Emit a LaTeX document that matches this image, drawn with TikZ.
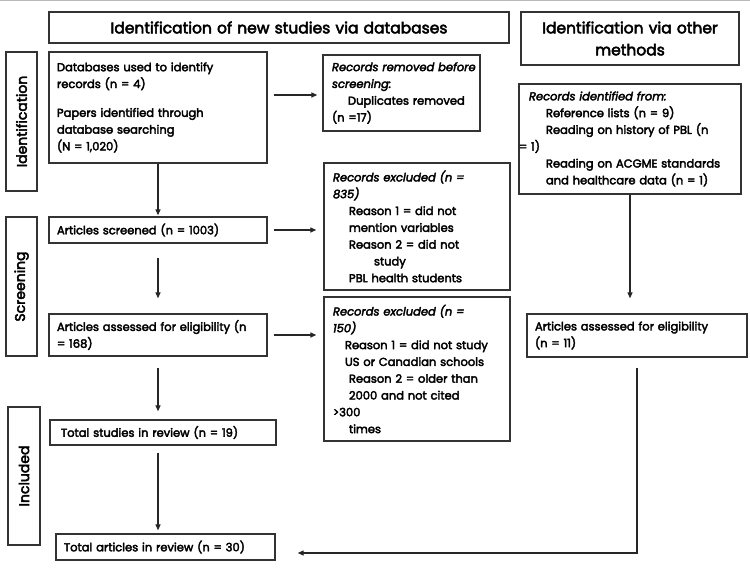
\documentclass[tikz,border=0pt]{standalone}
\usepackage{fontspec}
\setmainfont{Poppins}[FakeBold=3.2]
\usetikzlibrary{arrows.meta,calc}
\newcommand\bodyfnt{\fontsize{11.5}{16.8}\selectfont\hyphenpenalty=10000\exhyphenpenalty=10000 }
\newcommand\titlefnt{\fontsize{15.5}{22}\selectfont}
\newcommand\sidefnt{\fontsize{14}{18}\selectfont}
\tikzset{
  rect/.code n args={4}{%
    \pgfmathsetmacro\rw{#3-#1}\pgfmathsetmacro\rh{#4-#2}%
    \pgfmathsetmacro\rcx{(#1+#3)/2}\pgfmathsetmacro\rcy{(#2+#4)/2}%
    \pgfmathsetmacro\rtw{#3-#1-16}%
    \edef\tmpopts{\noexpand\tikzset{minimum width=\rw pt, minimum height=\rh pt, text width=\rtw pt, at={(\rcx,\rcy)}}}\tmpopts},
  vrect/.code n args={4}{%
    \pgfmathsetmacro\rw{#3-#1}\pgfmathsetmacro\rh{#4-#2}%
    \pgfmathsetmacro\rcx{(#1+#3)/2}\pgfmathsetmacro\rcy{(#2+#4)/2}%
    \edef\tmpopts{\noexpand\tikzset{minimum width=\rh pt, minimum height=\rw pt, at={(\rcx,\rcy)}}}\tmpopts},
  bx/.style={draw=black!80, line width=1.3pt, inner xsep=8pt, inner ysep=0pt, align=left, font=\bodyfnt},
  ttl/.style={bx, align=center, font=\titlefnt},
  side/.style={draw=black!80, line width=1.3pt, inner sep=0pt, rotate=90, font=\sidefnt},
  arr/.style={draw=black!85, line width=1.2pt, -{Triangle[length=6pt,width=5pt]}},
}
\begin{document}
\begin{tikzpicture}[x=1pt,y=-1pt]
\useasboundingbox (0,0) rectangle (750,583);
\draw[gray!55, line width=1.5pt] (0,0.75) -- (750,0.75);

% titles
\node[ttl, rect={49}{12}{509}{43}] (t1) {Identification of new studies via databases};
\node[ttl, rect={521}{12}{739}{65}] (t2) {Identification via other\\methods};

% side labels
\node[side, vrect={6}{52}{37}{191}] (lid) {Identification};
\node[side, vrect={6}{217}{37}{356}] (lsc) {Screening};
\node[side, vrect={8}{407}{40}{545}] (lin) {Included};

% boxes
\node[bx, rect={49}{52}{267}{163}] (db) {Databases used to identify\\records (n = 4)\\[12pt]Papers identified through\\database searching\\(N = 1,020)};
\node[bx, rect={323}{55}{480}{131}, text width=154pt, inner xsep=1.5pt] (rem) {\hspace*{7.5pt}\textit{Records removed before}\\\hspace*{7.5pt}\textit{screening:}\\\hspace*{23.5pt}Duplicates removed\\\hspace*{7.5pt}(n =17)};
\node[bx, rect={325}{163}{509}{290}, inner xsep=9pt] (ex1) {\textit{Records excluded (n =}\\\textit{835)}\\\hspace*{16pt}Reason 1 = did not\\\hspace*{16pt}mention variables\\\hspace*{16pt}Reason 2 = did not\\\hspace*{41pt}study\\\hspace*{16pt}PBL health students};
\node[bx, rect={521}{84}{739}{194}, inner xsep=10pt] (oth) {\textit{Records identified from:}\\\hspace*{17pt}Reference lists (n = 9)\\\hspace*{17pt}Reading on history of PBL (n\\\hspace*{-10pt}= 1)\\\hspace*{17pt}Reading on ACGME standards\\\hspace*{17pt}and healthcare data (n = 1)};
\node[bx, rect={49}{217}{267}{243}] (scr) {Articles screened (n = 1003)};
\node[bx, rect={49}{314}{267}{356}] (ass) {Articles assessed for eligibility (n\\= 168)};
\node[bx, rect={325}{297}{509}{441}, inner xsep=9pt] (ex2) {\textit{Records excluded (n =}\\\textit{150)}\\\hspace*{12pt}Reason 1 = did not study\\\hspace*{12pt}US or Canadian schools\\\hspace*{16pt}Reason 2 = older than\\\hspace*{16pt}2000 and not cited\\>300\\\hspace*{16pt}times};
\node[bx, rect={527}{314}{747}{357}] (a11) {Articles assessed for eligibility\\(n = 11)};
\node[bx, rect={53}{420}{273}{445}, inner xsep=11pt] (t19) {Total studies in review (n = 19)};
\node[bx, rect={56}{534}{275}{560}] (t30) {Total articles in review (n = 30)};

% connectors
\draw[arr, shorten <=6pt, shorten >=5pt] ([yshift=-2pt]db.east |- rem.west) -- ([yshift=-2pt]rem.west);
\draw[arr, shorten <=6pt, shorten >=7pt] (scr.east) -- (scr.east -| ex1.west);
\draw[arr, shorten <=6pt, shorten >=7pt] (ass.east) -- (ass.east -| ex2.west);
\draw[arr, shorten >=1pt] (db.south) -- (db.south |- scr.north);
\draw[arr, shorten <=14pt, shorten >=15pt] (scr.south) -- (scr.south |- ass.north);
\draw[arr, shorten <=11pt, shorten >=8pt] (ass.south) -- (ass.south |- t19.north);
\draw[arr, shorten <=7pt, shorten >=3pt] (ass.south |- t19.south) -- (ass.south |- t30.north);
\draw[arr, shorten >=15pt] (oth.south) -- (oth.south |- a11.north);
\draw[arr, shorten >=22pt] ([yshift=-10pt]a11.south) |- ([yshift=-6pt]t30.east);
\end{tikzpicture}
\end{document}
